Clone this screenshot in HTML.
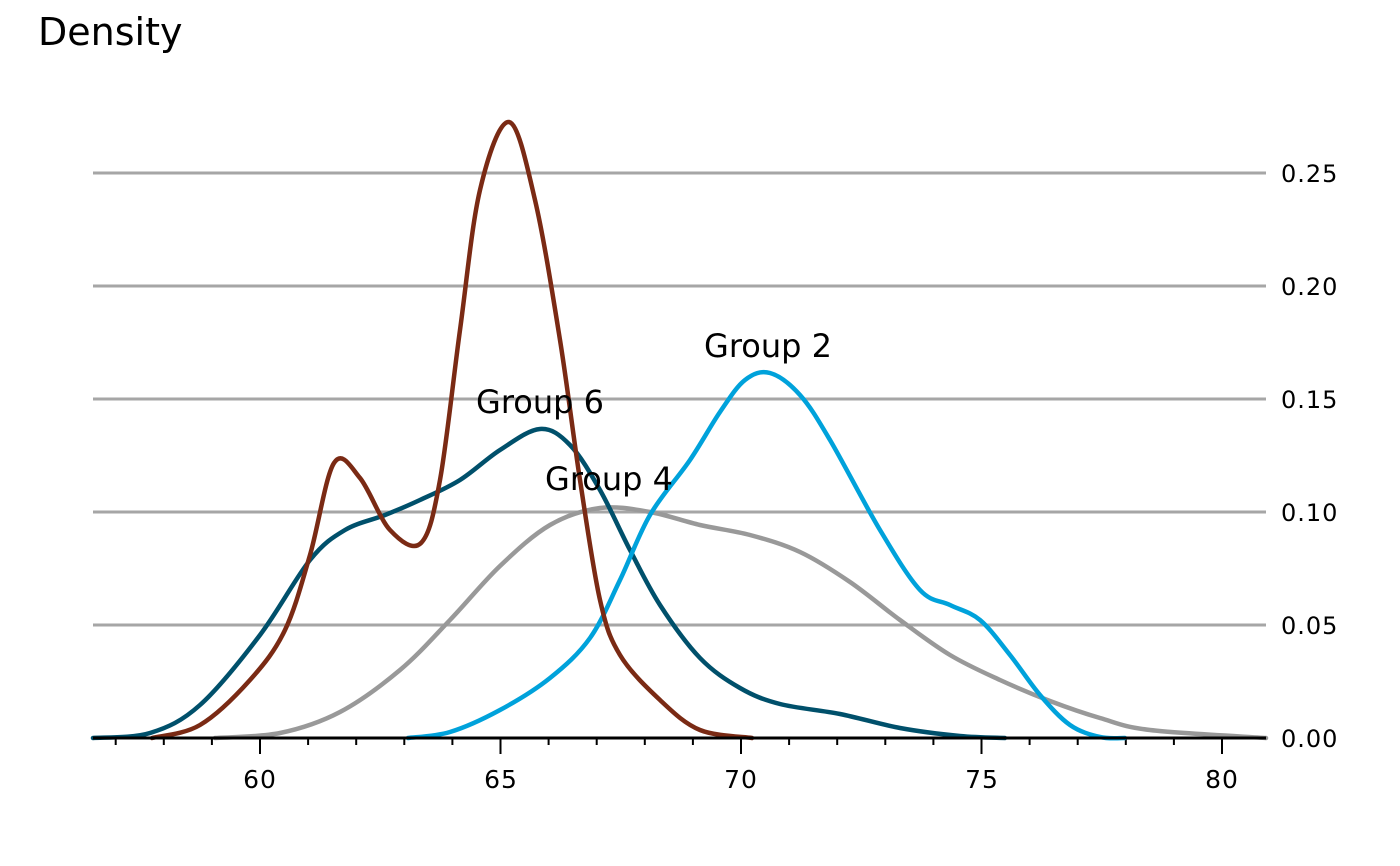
<!DOCTYPE html>
<html><head><style>body{margin:0;background:#fff}svg{display:block}text{font-family:"DejaVu Sans","Liberation Sans",sans-serif}</style></head>
<body>
<svg id="s" width="1400" height="866" viewBox="0 0 1400 866">
<text x="38" y="45" font-size="38">Density</text>
<g stroke="#a6a6a6" stroke-width="3">
<line x1="93" x2="1266" y1="173" y2="173"/><line x1="93" x2="1266" y1="286" y2="286"/>
<line x1="93" x2="1266" y1="399" y2="399"/><line x1="93" x2="1266" y1="512" y2="512"/>
<line x1="93" x2="1266" y1="625" y2="625"/>
</g>
<g font-size="24" letter-spacing="1">
<text x="1281" y="182">0.25</text><text x="1281" y="295">0.20</text><text x="1281" y="408">0.15</text>
<text x="1281" y="521">0.10</text><text x="1281" y="634">0.05</text><text x="1281" y="747">0.00</text>
</g>
<g id="ticks" stroke="#000" stroke-width="2"></g>
<g font-size="25" text-anchor="middle" letter-spacing="1">
<text x="260" y="788">60</text><text x="501" y="788">65</text><text x="741" y="788">70</text><text x="982" y="788">75</text><text x="1222" y="788">80</text>
</g>
<g id="curves" fill="none" stroke-width="4.5" stroke-linecap="round"></g>
<line x1="93" x2="1266" y1="738" y2="738" stroke="#000" stroke-width="3"/>
<g font-size="32">
<text x="768" y="357" text-anchor="middle">Group 2</text>
<text x="540" y="413" text-anchor="middle">Group 6</text>
<text x="609" y="490" text-anchor="middle">Group 4</text>
</g>
</svg>
<script>
var t=document.getElementById('ticks'),h='';
for(var v=57;v<=80;v++){var x=260+(v-60)*48.1;var L=(v%5==0)?16:7;h+='<line x1="'+x+'" x2="'+x+'" y1="738" y2="'+(738+L)+'"/>';}
t.innerHTML=h;
function cr(p){var d='M'+p[0][0]+','+p[0][1];for(var i=0;i<p.length-1;i++){var p0=p[i-1]||p[i],p1=p[i],p2=p[i+1],p3=p[i+2]||p2;
d+=' C'+(p1[0]+(p2[0]-p0[0])/6)+','+(p1[1]+(p2[1]-p0[1])/6)+' '+(p2[0]-(p3[0]-p1[0])/6)+','+(p2[1]-(p3[1]-p1[1])/6)+' '+p2[0]+','+p2[1];}return d;}
var S=[
['#999999',[[215,738],[280,733],[340,712],[400,670],[450,620],[500,566],[550,525],[600,508],[650,512],[700,525],[750,535],[800,552],[850,582],[900,620],[950,655],[1000,680],[1050,701],[1100,718],[1150,730],[1266,738]]],
['#00506b',[[93,738],[150,733],[200,705],[260,635],[310,560],[345,530],[385,515],[420,500],[460,480],[500,450],[540,429],[570,445],[600,490],[630,550],[660,605],[700,658],[740,688],[780,704],[840,714],[900,728],[960,736],[1005,738]]],
['#00a2db',[[408,738],[450,732],[500,710],[550,678],[590,638],[620,580],[650,515],[690,460],[720,412],[745,380],[770,373],[800,395],[830,440],[880,530],[920,590],[950,605],[980,620],[1010,655],[1040,695],[1070,725],[1100,737],[1125,738]]],
['#7a2a14',[[152,738],[200,725],[250,680],[285,630],[310,555],[334,463],[360,478],[390,530],[421,543],[440,480],[460,330],[480,190],[509,122],[535,200],[560,340],[580,480],[600,600],[620,655],[660,700],[700,730],[752,738]]]
];
var c='';S.forEach(function(s){c+='<path d="'+cr(s[1])+'" stroke="'+s[0]+'"/>';});
document.getElementById('curves').innerHTML=c;
</script>
</body></html>
